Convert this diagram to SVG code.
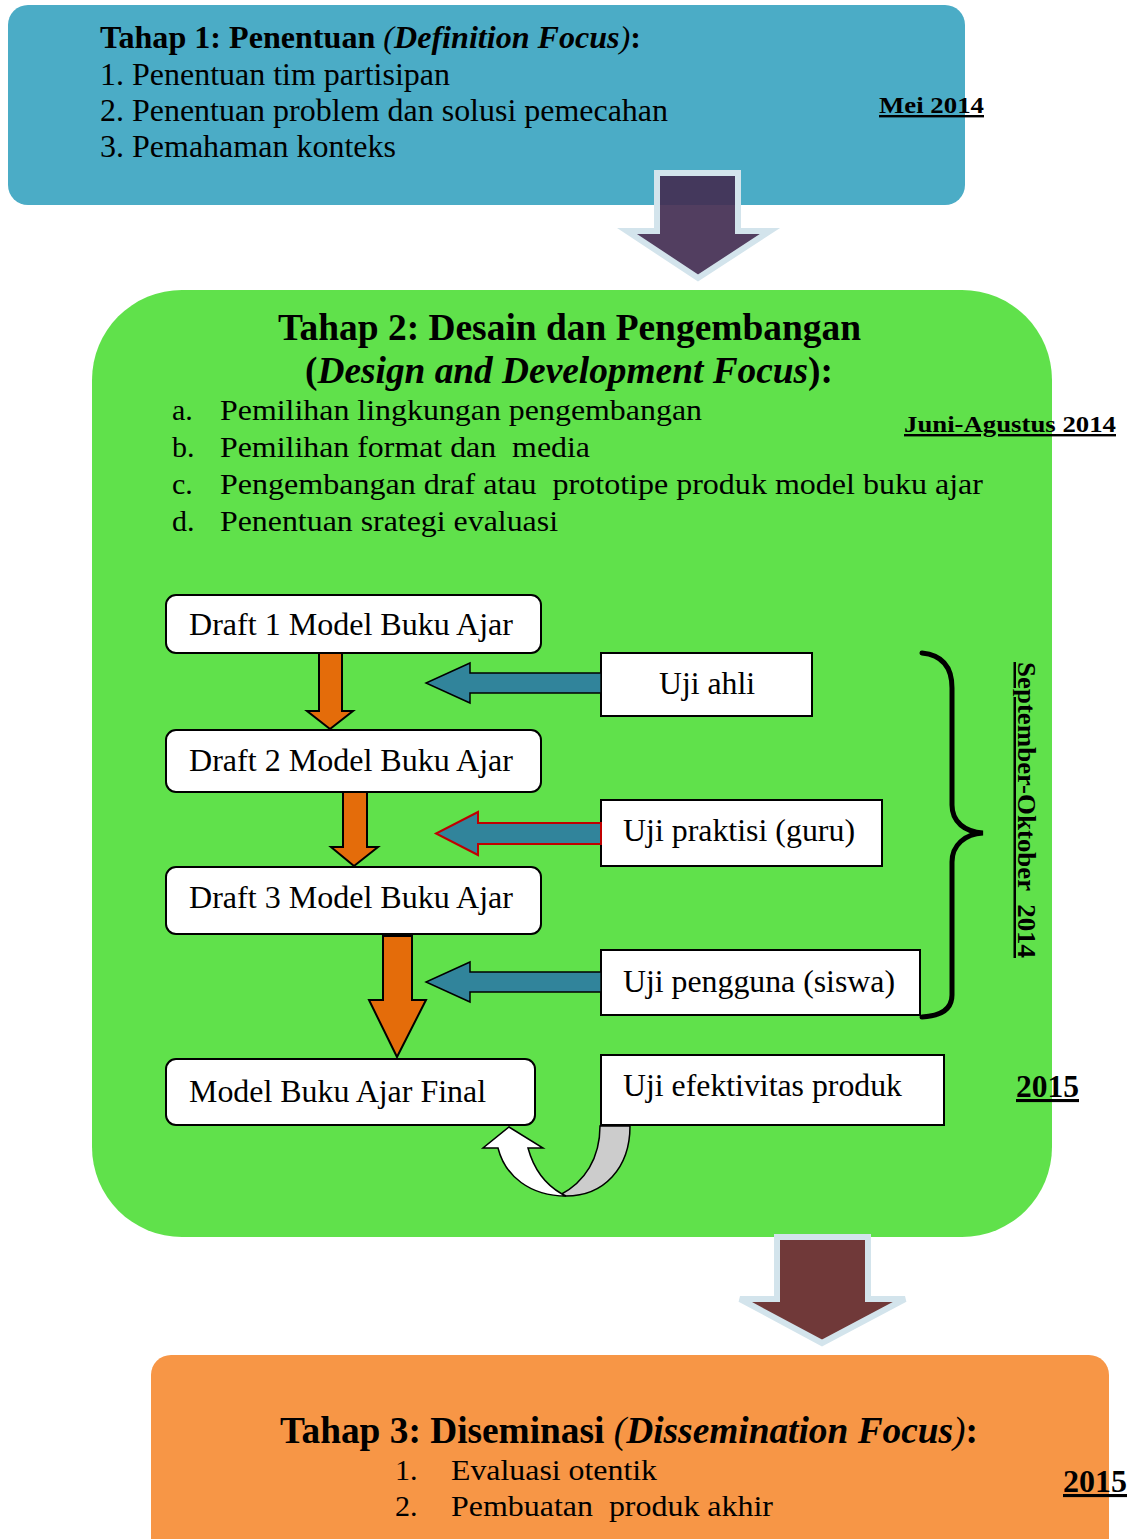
<svg xmlns="http://www.w3.org/2000/svg" width="1132" height="1539" viewBox="0 0 1132 1539">
<style>
text{font-family:"Liberation Serif","Times New Roman",serif;fill:#000}
.b{font-weight:bold}
.i{font-style:italic}
.n{font-weight:normal}
.u{text-decoration:underline}
.box{fill:#fff;stroke:#000;stroke-width:2}
.ora{fill:#E46C0A;stroke:#000;stroke-width:2;stroke-linejoin:miter}
.blu{fill:#31849B;stroke:#000;stroke-width:1.5}
.big{stroke:#D3E4EC;stroke-width:6;stroke-linejoin:miter}
</style>
<rect width="1132" height="1539" fill="#fff"/>
<g id="tahap1">
<rect x="8" y="5" width="957" height="200" rx="20" fill="#4BACC6"/>
<text x="100" y="48" class="b" font-size="31" textLength="541" lengthAdjust="spacingAndGlyphs">Tahap 1: Penentuan <tspan class="n i">(</tspan><tspan class="i">Definition Focus</tspan><tspan class="n i">)</tspan>:</text>
<text x="100" y="85" font-size="31" textLength="350" lengthAdjust="spacingAndGlyphs">1. Penentuan tim partisipan</text>
<text x="100" y="121" font-size="31" textLength="568" lengthAdjust="spacingAndGlyphs">2. Penentuan problem dan solusi pemecahan</text>
<text x="100" y="157" font-size="31" textLength="296" lengthAdjust="spacingAndGlyphs">3. Pemahaman konteks</text>
<text x="879" y="113" class="b u" font-size="24" textLength="105" lengthAdjust="spacingAndGlyphs">Mei 2014</text>
</g>
<g id="tahap2">
<rect x="92" y="290" width="960" height="947" rx="90" fill="#60E14B"/>
<text x="278" y="340" class="b" font-size="37" textLength="583" lengthAdjust="spacingAndGlyphs">Tahap 2: Desain dan Pengembangan</text>
<text x="305" y="383" class="b" font-size="37" textLength="528" lengthAdjust="spacingAndGlyphs">(<tspan class="i">Design and Development Focus</tspan>):</text>
<text x="172" y="420" font-size="30">a.</text>
<text x="220" y="420" font-size="30" textLength="482" lengthAdjust="spacingAndGlyphs">Pemilihan lingkungan pengembangan</text>
<text x="172" y="457" font-size="30">b.</text>
<text x="220" y="457" font-size="30" textLength="370" lengthAdjust="spacingAndGlyphs" xml:space="preserve">Pemilihan format dan  media</text>
<text x="172" y="494" font-size="30">c.</text>
<text x="220" y="494" font-size="30" textLength="763" lengthAdjust="spacingAndGlyphs" xml:space="preserve">Pengembangan draf atau  prototipe produk model buku ajar</text>
<text x="172" y="531" font-size="30">d.</text>
<text x="220" y="531" font-size="30" textLength="338" lengthAdjust="spacingAndGlyphs">Penentuan srategi evaluasi</text>
<text x="904" y="432" class="b u" font-size="24" textLength="212" lengthAdjust="spacingAndGlyphs">Juni-Agustus 2014</text>
<text transform="translate(1018,662) rotate(90)" class="b u" font-size="25" textLength="296" lengthAdjust="spacingAndGlyphs" xml:space="preserve">September-Oktober  2014</text>
<text x="1016" y="1097" class="b u" font-size="31" textLength="63" lengthAdjust="spacingAndGlyphs">2015</text>
</g>
<g id="draft1">
<rect x="166" y="595" width="375" height="58" rx="10" class="box"/>
<text x="189" y="635" font-size="32" textLength="324" lengthAdjust="spacingAndGlyphs">Draft 1 Model Buku Ajar</text>
</g>
<g id="draft2">
<rect x="166" y="730" width="375" height="62" rx="10" class="box"/>
<text x="189" y="771" font-size="32" textLength="324" lengthAdjust="spacingAndGlyphs">Draft 2 Model Buku Ajar</text>
</g>
<g id="draft3">
<rect x="166" y="867" width="375" height="67" rx="10" class="box"/>
<text x="189" y="908" font-size="32" textLength="324" lengthAdjust="spacingAndGlyphs">Draft 3 Model Buku Ajar</text>
</g>
<g id="final">
<rect x="166" y="1059" width="369" height="66" rx="10" class="box"/>
<text x="189" y="1102" font-size="32" textLength="297" lengthAdjust="spacingAndGlyphs">Model Buku Ajar Final</text>
</g>
<g id="ujiahli">
<rect x="601" y="653" width="211" height="63" class="box"/>
<text x="659" y="694" font-size="32" textLength="96" lengthAdjust="spacingAndGlyphs">Uji ahli</text>
</g>
<g id="ujipraktisi">
<rect x="601" y="800" width="281" height="66" class="box"/>
<text x="623" y="841" font-size="32" textLength="232" lengthAdjust="spacingAndGlyphs">Uji praktisi (guru)</text>
</g>
<g id="ujipengguna">
<rect x="601" y="950" width="319" height="65" class="box"/>
<text x="623" y="992" font-size="32" textLength="272" lengthAdjust="spacingAndGlyphs">Uji pengguna (siswa)</text>
</g>
<g id="ujiefektivitas">
<rect x="601" y="1055" width="343" height="70" class="box"/>
<text x="623" y="1096" font-size="32" textLength="279" lengthAdjust="spacingAndGlyphs">Uji efektivitas produk</text>
</g>
<g id="tahap3">
<rect x="151" y="1355" width="958" height="210" rx="20" fill="#F79646"/>
<text x="280" y="1443" class="b" font-size="37" textLength="698" lengthAdjust="spacingAndGlyphs">Tahap 3: Diseminasi <tspan class="n i">(</tspan><tspan class="i">Dissemination Focus</tspan><tspan class="n i">)</tspan>:</text>
<text x="395" y="1480" font-size="30">1.</text>
<text x="451" y="1480" font-size="30" textLength="206" lengthAdjust="spacingAndGlyphs">Evaluasi otentik</text>
<text x="395" y="1516" font-size="30">2.</text>
<text x="451" y="1516" font-size="30" textLength="322" lengthAdjust="spacingAndGlyphs" xml:space="preserve">Pembuatan  produk akhir</text>
<text x="1063" y="1492" class="b u" font-size="31" textLength="64" lengthAdjust="spacingAndGlyphs">2015</text>
</g>
<g id="connectors">
<path class="big" d="M657,173 L738,173 L738,231 L770,231 L698,278 L627,231 L657,231 Z" fill="#432E52" fill-opacity="0.92"/>
<path class="big" d="M777,1237 L868,1237 L868,1299 L905,1299 L822,1343 L740,1299 L777,1299 Z" fill="#703939"/>
<path class="ora" d="M319,653 L342,653 L342,711 L353,711 L330,729 L307,711 L319,711 Z"/>
<path class="ora" d="M343,792 L367,792 L367,847 L378,847 L354,866 L331,847 L343,847 Z"/>
<path class="ora" d="M383,936 L412,936 L412,1000 L426,1000 L397,1057 L369,1000 L383,1000 Z"/>
<path class="blu" d="M601,673 L470,673 L470,663 L426,683 L470,703 L470,693 L601,693 Z"/>
<path class="blu" d="M601,823 L478,823 L478,812 L436,833.5 L478,855 L478,844 L601,844 Z" style="stroke:#C00000;stroke-width:2"/>
<path class="blu" d="M601,972 L470,972 L470,962 L426,982 L470,1002 L470,992 L601,992 Z"/>
<path d="M922,653 C942,655 952,667 952,688 L952,805 C952,822 965,832 983,833 C965,834 952,845 952,862 L952,995 C952,1010 940,1016 922,1017" fill="none" stroke="#000" stroke-width="5" stroke-linecap="round"/>
<path d="M600,1126 L630,1126 C630,1168 604,1196 566,1196 L560,1195 C585,1182 600,1158 600,1126 Z" fill="#CCCCCC" stroke="#000" stroke-width="1.5"/>
<path d="M566,1196 C530,1196 505,1176 498,1148 L483,1148 L509,1127 L543,1148 L528,1148 C534,1170 546,1185 562,1194 Z" fill="#fff" stroke="#000" stroke-width="1.5" stroke-linejoin="miter"/>
</g>
</svg>
